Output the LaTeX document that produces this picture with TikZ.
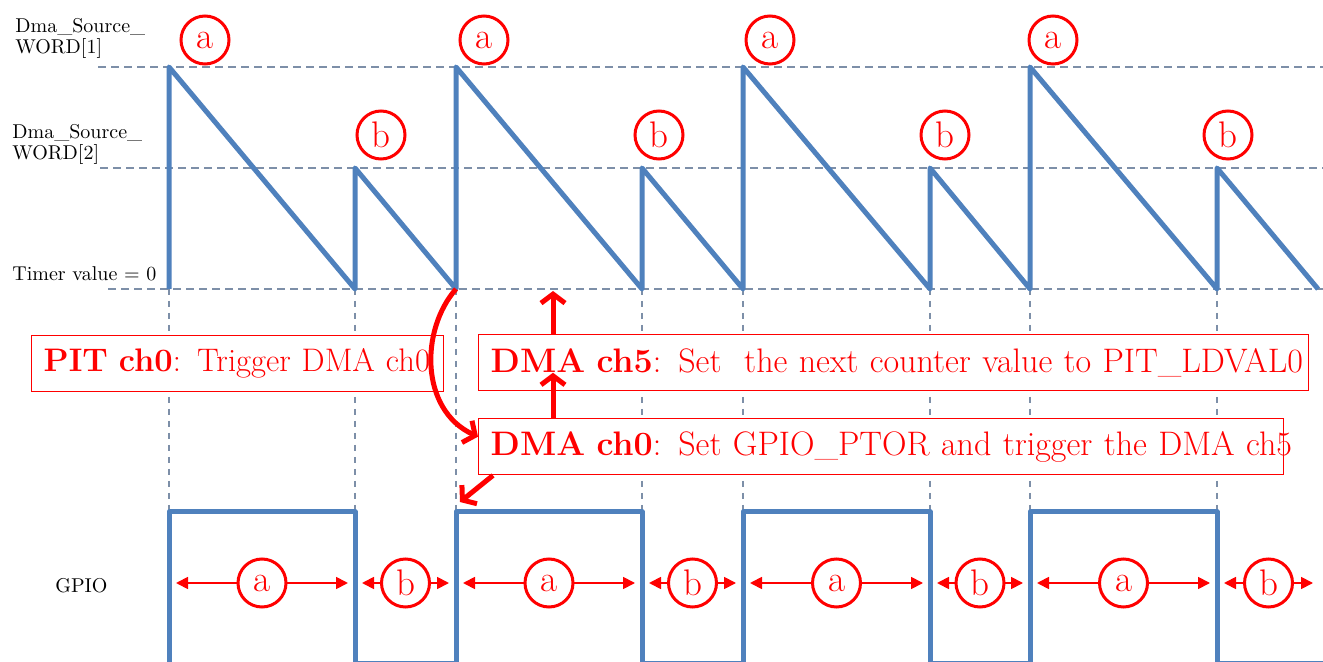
\documentclass[tikz,border=0pt]{standalone}
\usetikzlibrary{arrows.meta,calc}

\definecolor{sigblue}{RGB}{79,129,189}
\definecolor{gridgray}{RGB}{125,143,168}

\begin{document}
\begin{tikzpicture}[x=0.5pt,y=-0.5pt,>=Stealth,
    signal/.style={line width=2.5pt, sigblue, line join=round},
    levelline/.style={line width=1pt, gridgray, dash pattern=on 4pt off 2.5pt},
    edgeline/.style={line width=0.75pt, gridgray, dash pattern=on 3pt off 3pt},
    sidelabel/.style={anchor=west, align=left, inner sep=0pt, font=\fontsize{10}{10.5}\selectfont},
    tag/.style={circle, draw=red, line width=1.5pt, fill=white, text=red, minimum size=24pt, inner sep=0pt, font=\fontsize{18.5}{18.5}\selectfont},
    stepnote/.style={draw=red, line width=0.7pt, fill=white, text=red, anchor=north west, inner xsep=6pt, inner ysep=0pt, minimum height=28pt, align=left, font=\fontsize{17}{18}\selectfont},
    trig/.style={red, line width=2.5pt, -{Straight Barb[length=4.5pt,width=12pt]}},
    span/.style={red, line width=0.9pt, {Triangle[length=6pt,width=6pt]}-{Triangle[length=6pt,width=6pt]}, shorten <=3.5pt, shorten >=3.5pt}]

    % --- White canvas ---
    \fill[white] (0,0) rectangle (1323,662);
    \useasboundingbox (0,0) rectangle (1323,662);

    % --- Key coordinates ---
    \coordinate (Fall) at (456,289);
    \coordinate (ZeroMark) at (553,291);
    \coordinate (GpioRise) at (460,502);

    % --- Level lines ---
    \draw[levelline] (98,67) -- (1323,67);
    \draw[levelline] (100,168) -- (1323,168);
    \draw[levelline] (108,289) -- (1323,289);

    \node[sidelabel] (wordone) at (15,38) {Dma\_Source\_\\WORD[1]};
    \node[sidelabel] (wordtwo) at (12,144) {Dma\_Source\_\\WORD[2]};
    \node[sidelabel] (timerzero) at (12,274) {Timer value = 0};
    \node[sidelabel] (gpio) at (55,586) {GPIO};

    % --- Edge lines ---
    \draw[edgeline] (169,289) -- (169,512);
    \draw[edgeline] (355,289) -- (355,512);
    \draw[edgeline] (456,289) -- (456,512);
    \draw[edgeline] (642,289) -- (642,512);
    \draw[edgeline] (743,289) -- (743,512);
    \draw[edgeline] (930,289) -- (930,512);
    \draw[edgeline] (1030,289) -- (1030,512);
    \draw[edgeline] (1217,289) -- (1217,512);

    % --- Timer sawtooth ---
    \draw[signal] (169,289) -- (169,67) -- (355,289) -- (355,168) -- (456,289)
        -- (456,67) -- (642,289) -- (642,168) -- (743,289)
        -- (743,67) -- (930,289) -- (930,168) -- (1030,289)
        -- (1030,67) -- (1217,289) -- (1217,168) -- (1318,289);

    % --- GPIO wave ---
    \draw[signal] (169,668) -- (169,512) -- (355,512) -- (355,663) -- (456,663)
        -- (456,512) -- (642,512) -- (642,663) -- (743,663)
        -- (743,512) -- (930,512) -- (930,663) -- (1030,663)
        -- (1030,512) -- (1217,512) -- (1217,663) -- (1330,663);

    % --- Boxes ---
    \node[stepnote, text width=194pt, font=\fontsize{16.3}{18}\selectfont] (pitbox) at (31,335)
        {\mbox{\textbf{PIT ch0}: Trigger DMA ch0}};
    \node[stepnote, text width=403pt] (dmafive) at (478,334)
        {\mbox{\textbf{DMA ch5}: Set\ \ the next counter value to PIT\_LDVAL0}};
    \node[stepnote, text width=390.5pt] (dmazero) at (478,418)
        {\mbox{\textbf{DMA ch0}: Set GPIO\_PTOR and trigger the DMA ch5}};

    % --- Trigger arrows ---
    \draw[trig] (Fall) .. controls (420,330) and (420,410) .. ($(dmazero.west)+(0,-10)$);
    \draw[trig] ($(dmazero.south west)+(15,0)$) -- (GpioRise);
    \draw[trig] (dmazero.north -| ZeroMark) -- ($(dmafive.center -| ZeroMark)+(0,10)$);
    \draw[trig] (dmafive.north -| ZeroMark) -- (ZeroMark);

    % --- Period tags on the timer ---
    \node[tag] (topa1) at (205,40) {a};
    \node[tag] (topb1) at (381,135) {b};
    \node[tag] (topa2) at (484,40) {a};
    \node[tag] (topb2) at (659,135) {b};
    \node[tag] (topa3) at (770,40) {a};
    \node[tag] (topb3) at (945,135) {b};
    \node[tag] (topa4) at (1053,40) {a};
    \node[tag] (topb4) at (1228,135) {b};

    % --- Period spans on GPIO ---
    \coordinate (E1) at (169,583);
    \coordinate (E2) at (355,583);
    \coordinate (E3) at (456,583);
    \coordinate (E4) at (642,583);
    \coordinate (E5) at (743,583);
    \coordinate (E6) at (930,583);
    \coordinate (E7) at (1030,583);
    \coordinate (E8) at (1217,583);
    \coordinate (E9) at (1320,583);

    \draw[span] (E1) -- (E2);
    \draw[span] (E2) -- (E3);
    \draw[span] (E3) -- (E4);
    \draw[span] (E4) -- (E5);
    \draw[span] (E5) -- (E6);
    \draw[span] (E6) -- (E7);
    \draw[span] (E7) -- (E8);
    \draw[span] (E8) -- (E9);

    \node[tag] (gpioa1) at ($(E1)!0.5!(E2)$) {a};
    \node[tag] (gpiob1) at ($(E2)!0.5!(E3)$) {b};
    \node[tag] (gpioa2) at ($(E3)!0.5!(E4)$) {a};
    \node[tag] (gpiob2) at ($(E4)!0.5!(E5)$) {b};
    \node[tag] (gpioa3) at ($(E5)!0.5!(E6)$) {a};
    \node[tag] (gpiob3) at ($(E6)!0.5!(E7)$) {b};
    \node[tag] (gpioa4) at ($(E7)!0.5!(E8)$) {a};
    \node[tag] (gpiob4) at ($(E8)!0.5!(E9)$) {b};

\end{tikzpicture}
\end{document}
